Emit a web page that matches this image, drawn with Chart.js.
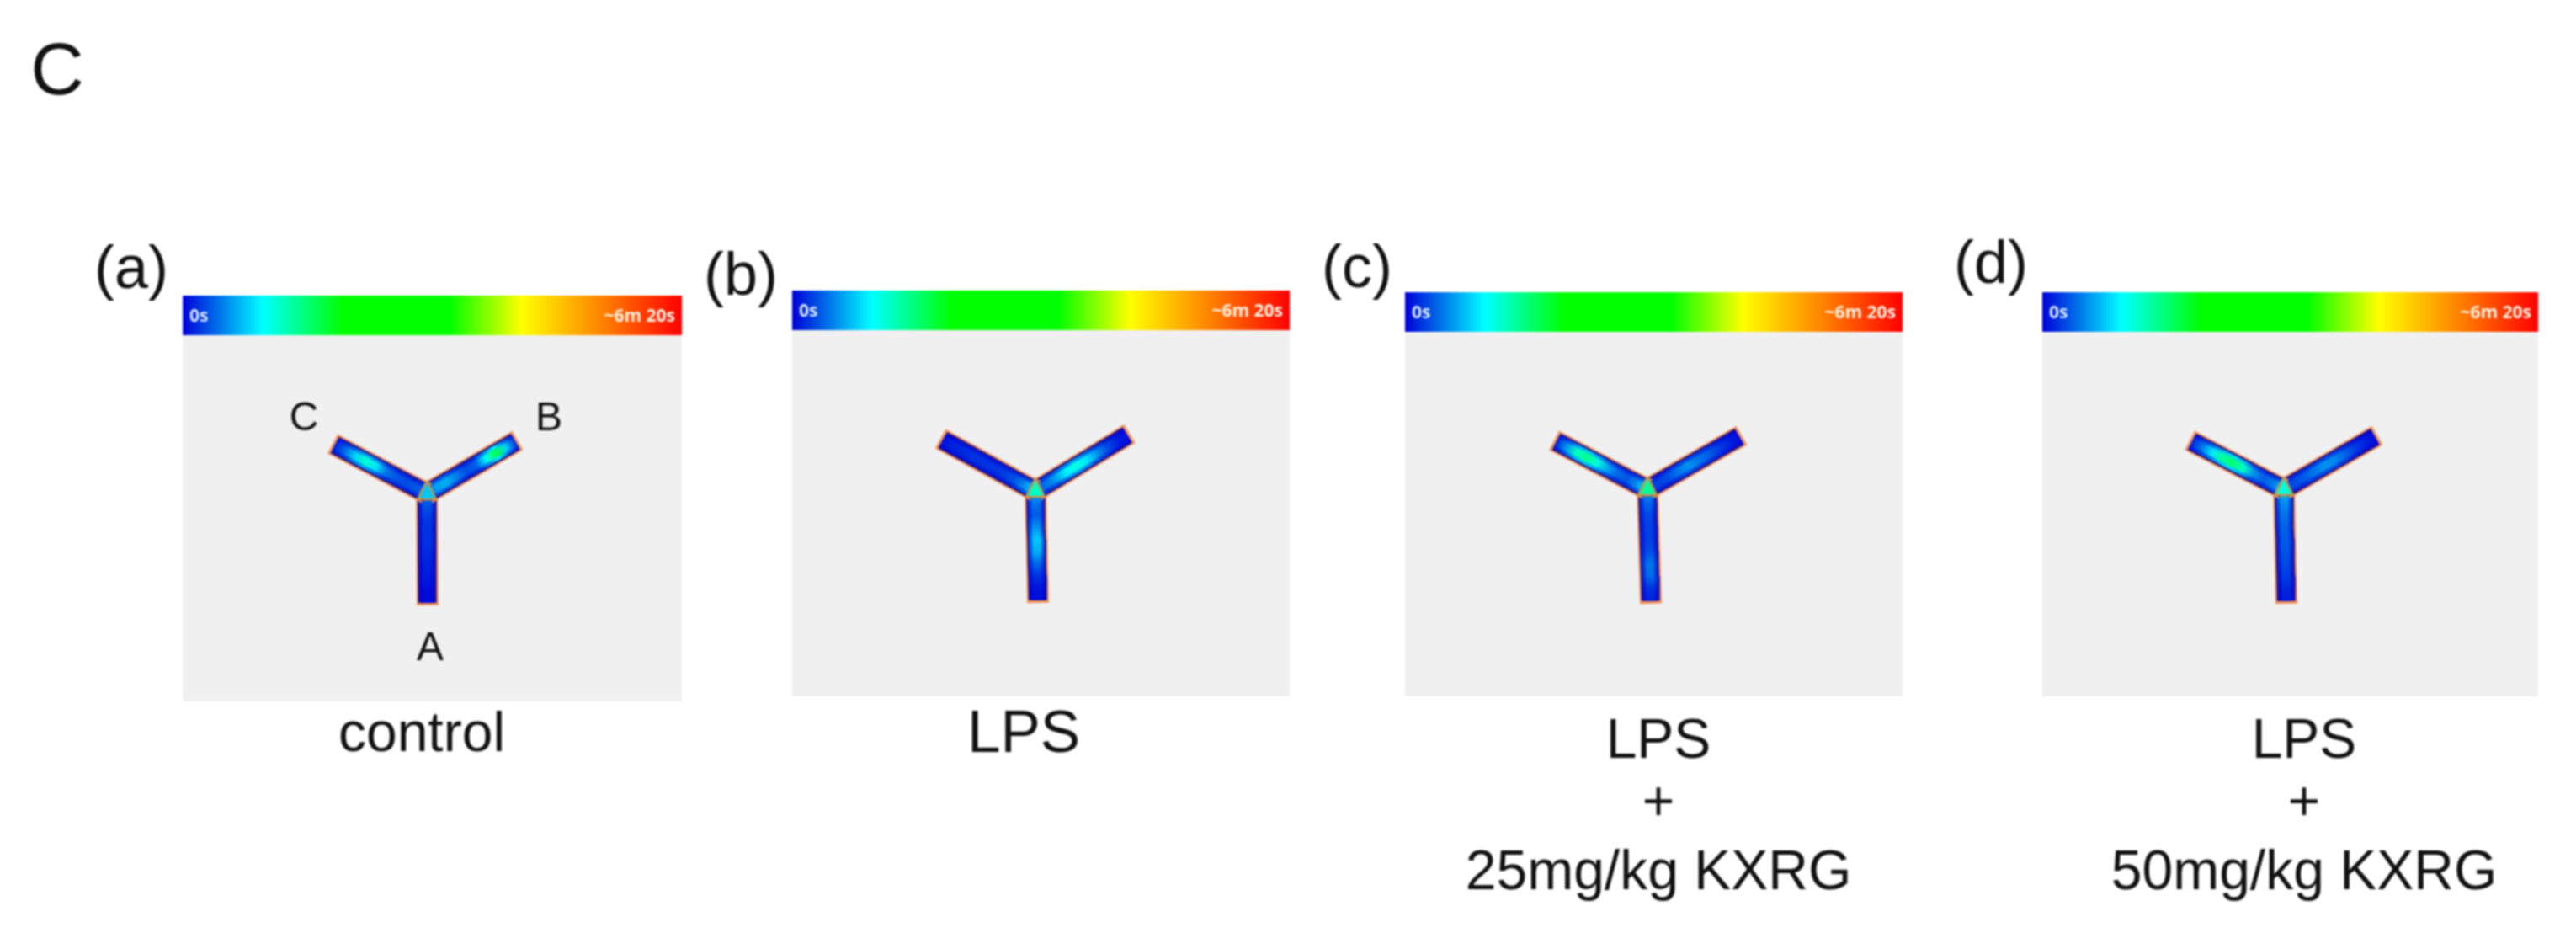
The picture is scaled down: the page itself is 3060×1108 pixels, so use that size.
<!DOCTYPE html>
<html>
<head>
<meta charset="utf-8">
<title>Y maze heat maps</title>
<script src="https://cdn.jsdelivr.net/npm/chart.js@4"></script>
<style>
  html, body { margin: 0; padding: 0; background: #fff; }
  #maze { position: absolute; left: 0; top: 0; filter: blur(0.9px); }
</style>
</head>
<body>
<canvas id="maze" width="3060" height="1108"></canvas>
<script>
// data
var panelLetters = ["(a)", "(b)", "(c)", "(d)"];
var armNames = ["A", "B", "C"];
var captionsA = ["control"];
var captionsB = ["LPS"];
var captionsC = ["LPS", "+", "25mg/kg KXRG"];
var captionsD = ["LPS", "+", "50mg/kg KXRG"];
var scaleStart = "0s";
var scaleEnd = "~6m 20s";

// colour scale, seconds (6m 20s = 380)
var scaleSeconds = [0, 61, 122, 203, 258, 320, 380];
var scaleColors = ["#0000d8", "#00ffff", "#00ff00", "#00ff00", "#ffff00", "#ff8000", "#ff0000"];

// seconds spent, going from the centre to the end of each arm
var heatA_armA = [26, 20, 14, 12, 12, 10, 8, 6, 3, 2];
var heatA_armB = [30, 38, 42, 30, 18, 22, 60, 105, 50, 10];
var heatA_armC = [25, 20, 18, 20, 28, 55, 72, 50, 25, 8];
var heatB_armA = [45, 28, 22, 35, 48, 42, 25, 12, 5, 3];
var heatB_armB = [30, 25, 38, 58, 68, 55, 35, 18, 8, 3];
var heatB_armC = [55, 35, 20, 14, 12, 12, 12, 10, 8, 4];
var heatC_armA = [40, 25, 18, 15, 15, 18, 28, 25, 12, 8];
var heatC_armB = [20, 15, 18, 28, 35, 28, 22, 14, 8, 3];
var heatC_armC = [65, 35, 20, 25, 40, 70, 88, 75, 35, 8];
var heatD_armA = [45, 35, 28, 24, 22, 20, 18, 14, 10, 6];
var heatD_armB = [20, 18, 22, 28, 35, 32, 24, 14, 8, 3];
var heatD_armC = [55, 30, 22, 35, 75, 95, 85, 55, 28, 8];
var centreHeat = [48, 75, 85, 70];

// layout of the four panels, in figure pixels
var panels = [
  { left: 217, right: 810, barTop: 351, barBottom: 398, bottom: 833,
    centre: [507, 586], ends: [[508, 719], [615, 523], [395, 527]],
    letterAt: [156, 322], captionX: 501, captionY: [874], captionFont: 66,
    captions: captionsA, heat: [heatA_armA, heatA_armB, heatA_armC] },
  { left: 941, right: 1532, barTop: 345, barBottom: 392, bottom: 827,
    centre: [1230, 583], ends: [[1233, 716], [1342, 515], [1117, 521]],
    letterAt: [880, 330], captionX: 1216, captionY: [873], captionFont: 71,
    captions: captionsB, heat: [heatB_armA, heatB_armB, heatB_armC] },
  { left: 1669, right: 2260, barTop: 347, barBottom: 394, bottom: 827,
    centre: [1957, 581], ends: [[1961, 717], [2069, 517], [1846, 523]],
    letterAt: [1612, 321], captionX: 1970, captionY: [882, 956, 1038], captionFont: 66,
    captions: captionsC, heat: [heatC_armA, heatC_armB, heatC_armC] },
  { left: 2426, right: 3015, barTop: 347, barBottom: 394, bottom: 827,
    centre: [2713, 581], ends: [[2716, 717], [2824, 517], [2601, 523]],
    letterAt: [2365, 316], captionX: 2737, captionY: [882, 956, 1038], captionFont: 66,
    captions: captionsD, heat: [heatD_armA, heatD_armB, heatD_armC] }
];

function hexToRgb(hex) {
  return [parseInt(hex.substr(1, 2), 16), parseInt(hex.substr(3, 2), 16), parseInt(hex.substr(5, 2), 16)];
}

function colorFor(seconds) {
  for (var i = 1; i < scaleSeconds.length; i++) {
    if (seconds <= scaleSeconds[i]) {
      var f = (seconds - scaleSeconds[i - 1]) / (scaleSeconds[i] - scaleSeconds[i - 1]);
      var a = hexToRgb(scaleColors[i - 1]), b = hexToRgb(scaleColors[i]);
      return "rgb(" + Math.round(a[0] + (b[0] - a[0]) * f) + "," + Math.round(a[1] + (b[1] - a[1]) * f) + "," + Math.round(a[2] + (b[2] - a[2]) * f) + ")";
    }
  }
  return scaleColors[scaleColors.length - 1];
}

function scaleGradient(p) {
  return function(ctx) {
    // options also get resolved once before the scales are laid out
    if (!ctx.chart.chartArea) return scaleColors[0];
    var x = ctx.chart.scales.x;
    var g = ctx.chart.ctx.createLinearGradient(x.getPixelForValue(p.left), 0, x.getPixelForValue(p.right), 0);
    scaleSeconds.forEach(function(s, i) { g.addColorStop(s / 380, scaleColors[i]); });
    return g;
  };
}

function armGradient(heat, from, to, dim) {
  return function(ctx) {
    if (!ctx.chart.chartArea) return scaleColors[0];
    var sx = ctx.chart.scales.x, sy = ctx.chart.scales.y;
    var g = ctx.chart.ctx.createLinearGradient(sx.getPixelForValue(from[0]), sy.getPixelForValue(from[1]), sx.getPixelForValue(to[0]), sy.getPixelForValue(to[1]));
    heat.forEach(function(s, i) { g.addColorStop(i / (heat.length - 1), colorFor(s * dim)); });
    return g;
  };
}

function shape(points, fillColor, lineColor, lineWidth) {
  return {
    data: points.map(function(p) { return { x: p[0], y: p[1] }; }),
    showLine: true, pointRadius: 0, fill: "shape", tension: 0,
    backgroundColor: fillColor,
    borderColor: lineColor || "rgba(0,0,0,0)",
    borderWidth: lineWidth || 0
  };
}

function armLine(points, color, width) {
  return {
    data: points.map(function(p) { return { x: p[0], y: p[1] }; }),
    showLine: true, pointRadius: 0, fill: false, tension: 0,
    borderColor: color, borderWidth: width
  };
}

var datasets = [];

panels.forEach(function(p, pi) {
  datasets.push(shape([[p.left, p.barBottom], [p.right, p.barBottom], [p.right, p.bottom], [p.left, p.bottom]], "#f0f0f0"));
  datasets.push(shape([[p.left, p.barTop], [p.right, p.barTop], [p.right, p.barBottom], [p.left, p.barBottom]], scaleGradient(p)));

  p.ends.forEach(function(end, ai) {
    var heat = p.heat[ai];
    var tip = [p.centre[0] + (end[0] - p.centre[0]) * 0.975, p.centre[1] + (end[1] - p.centre[1]) * 0.975];
    var samples = heat.map(function(v, i) {
      var t = i / (heat.length - 1);
      return [p.centre[0] + (tip[0] - p.centre[0]) * t, p.centre[1] + (tip[1] - p.centre[1]) * t];
    });
    datasets.push(armLine([p.centre, end], "#f2945a", 26));
    datasets.push(armLine(samples, "#1c0a90", 22));
    datasets.push(armLine(samples, armGradient(heat, p.centre, tip, 0.55), 18));
    datasets.push(armLine(samples, armGradient(heat, p.centre, tip, 1), 10));
  });

  var c = p.centre;
  datasets.push(shape([[c[0], c[1] - 15], [c[0] + 11, c[1] + 7], [c[0] - 11, c[1] + 7], [c[0], c[1] - 15]], colorFor(centreHeat[pi]), "#c8934a", 2.5));
});

datasets.forEach(function(d, i) { d.order = -i; });

// letters, captions and the scale labels go on top of the marks
var figureText = {
  id: "figureText",
  afterDatasetsDraw: function(chart) {
    var ctx = chart.ctx, sx = chart.scales.x, sy = chart.scales.y;
    function put(text, x, y, font, color, align) {
      ctx.font = font;
      ctx.fillStyle = color;
      ctx.textAlign = align || "center";
      ctx.textBaseline = "middle";
      ctx.fillText(text, sx.getPixelForValue(x), sy.getPixelForValue(y));
    }
    ctx.save();
    put("C", 68, 88, "88px 'Liberation Sans'", "#111");
    panels.forEach(function(p, pi) {
      put(panelLetters[pi], p.letterAt[0], p.letterAt[1], "72px 'Liberation Sans'", "#111");
      p.captions.forEach(function(line, i) {
        put(line, p.captionX, p.captionY[i], p.captionFont + "px 'Liberation Sans'", "#111");
      });
      put(scaleStart, p.left + 8, (p.barTop + p.barBottom) / 2 + 2, "bold 21px 'Open Sans'", "#d4e4ff", "left");
      put(scaleEnd, p.right - 8, (p.barTop + p.barBottom) / 2 + 2, "bold 21px 'Open Sans'", "#fff0e0", "right");
    });
    // arm names only on the control panel
    put(armNames[0], 511, 771, "48px 'Liberation Sans'", "#111");
    put(armNames[1], 652, 498, "48px 'Liberation Sans'", "#111");
    put(armNames[2], 361, 498, "48px 'Liberation Sans'", "#111");
    ctx.restore();
  }
};

new Chart(document.getElementById("maze").getContext("2d"), {
  type: "scatter",
  data: { datasets: datasets },
  options: {
    responsive: false,
    animation: false,
    layout: { padding: 0 },
    plugins: { legend: { display: false }, tooltip: { enabled: false } },
    scales: {
      x: { type: "linear", display: false, min: 0, max: 3060 },
      y: { type: "linear", display: false, min: 0, max: 1108, reverse: true }
    }
  },
  plugins: [figureText]
});
</script>
</body>
</html>
